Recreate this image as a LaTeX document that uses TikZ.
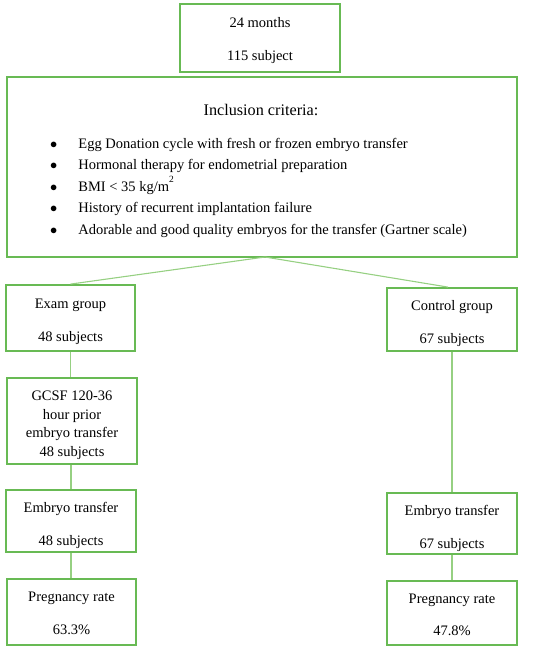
\documentclass[tikz,border=0pt]{standalone}
\usepackage{fontspec}
\setmainfont{Liberation Serif}
\definecolor{boxgreen}{RGB}{104,186,84}
\definecolor{linegreen}{RGB}{150,208,130}
\newcommand\padtop[1]{\rule{0pt}{#1pt}}
\tikzset{
  box/.style={draw=boxgreen, line width=1.8pt, inner sep=0pt, align=center,
    font=\fontsize{14.5}{18.7}\selectfont},
  conn/.style={draw=linegreen, line width=1.1pt},
  txt/.style={inner sep=0pt, font=\fontsize{14.5}{16}\selectfont}
}
\begin{document}
\begin{tikzpicture}[x=1pt,y=-1pt]
\useasboundingbox (0,0) rectangle (550,653);
% boxes
\node[box, minimum width=160pt, minimum height=68pt] (top) at (260,38)
  {\padtop{15}24 months\\[14pt]115 subject};
\node[box, minimum width=510pt, minimum height=180pt] (incl) at (262,167) {};
\node[txt, font=\fontsize{16.2}{18}\selectfont] (title) at (261,110) {Inclusion criteria:};
\node[txt, anchor=north west, align=left] (list) at (50,133) {%
  \def\arraystretch{1.33}%
  \begin{tabular}{@{}l@{\hspace{21pt}}l@{}}
  $\bullet$ & Egg Donation cycle with fresh or frozen embryo transfer\\
  $\bullet$ & Hormonal therapy for endometrial preparation\\
  $\bullet$ & BMI < 35 kg/m\raisebox{1.45ex}{\fontsize{9.5}{9.5}\selectfont 2}\\
  $\bullet$ & History of recurrent implantation failure\\
  $\bullet$ & Adorable and good quality embryos for the transfer (Gartner scale)
  \end{tabular}};
\node[box, minimum width=129pt, minimum height=66pt] (exam) at (70.5,318)
  {\padtop{17}Exam group\\[14pt]48 subjects};
\node[box, minimum width=130pt, minimum height=63pt] (ctrl) at (452,319.5)
  {\padtop{18}Control group\\[14pt]67 subjects};
\node[box, minimum width=130pt, minimum height=86pt] (gcsf) at (72,421)
  {\padtop{18}GCSF 120-36\\hour prior\\embryo transfer\\48 subjects};
\node[box, minimum width=130pt, minimum height=62pt] (etl) at (71,521)
  {\padtop{19}Embryo transfer\\[14pt]48 subjects};
\node[box, minimum width=130pt, minimum height=61pt] (etr) at (452,523.5)
  {\padtop{20}Embryo transfer\\[14pt]67 subjects};
\node[box, minimum width=129pt, minimum height=66pt] (prl) at (71.5,612)
  {\padtop{12}Pregnancy rate\\[14pt]63.3\%};
\node[box, minimum width=130pt, minimum height=64pt] (prr) at (452,613)
  {\padtop{13}Pregnancy rate\\[14pt]47.8\%};
% connectors
\coordinate (split) at (265,257);
\draw[conn] (split) -- (exam.north);
\draw[conn] (split) -- ([xshift=-4pt]ctrl.north);
\draw[conn] (exam.south) -- (gcsf.north -| exam.south);
\draw[conn] (gcsf.south -| etl.north) -- (etl.north);
\draw[conn] (etl.south) -- (prl.north -| etl.south);
\draw[conn] (ctrl.south) -- (etr.north);
\draw[conn] (etr.south) -- (prr.north);
\end{tikzpicture}
\end{document}
